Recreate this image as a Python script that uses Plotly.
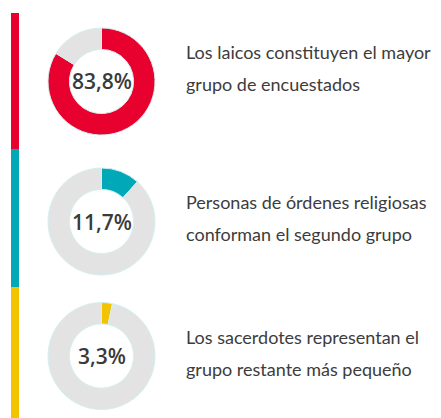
import plotly.graph_objects as go

# Data
groups = ["Laicos", "Órdenes religiosas", "Sacerdotes"]
shares = [83.8, 11.7, 3.3]
pct_labels = ["83,8%", "11,7%", "3,3%"]
captions = [
    ["Los laicos constituyen el mayor", "grupo de encuestados"],
    ["Personas de órdenes religiosas", "conforman el segundo grupo"],
    ["Los sacerdotes representan el", "grupo restante más pequeño"],
]
colors = ["#E8002F", "#00A8B8", "#F2C300"]
rest_color = "#E3E3E3"

# page body has an 8px margin; work in window pixels and convert
OFF = 8
W, H = 441 - OFF, 418 - OFF


def px(x):
    return (x - OFF) / W


def py(y):
    return 1 - (y - OFF) / H


donut_x = (48, 155)
donut_y = [(28, 135), (168, 275), (302, 410)]
bar_y = [(13, 149), (149, 287), (287, 418)]
caption_base = [(58, 90), (208, 240), (343, 375)]

fig = go.Figure()
for i, (g, v) in enumerate(zip(groups, shares)):
    y0, y1 = donut_y[i]
    fig.add_trace(go.Pie(
        labels=[g, "Resto"],
        values=[v, 100 - v],
        hole=0.6,
        sort=False,
        direction="clockwise",
        rotation=0,
        textinfo="none",
        hoverinfo="label+percent",
        marker=dict(colors=[colors[i], rest_color],
                    line=dict(color="#d4f0f0", width=1)),
        domain=dict(x=[px(donut_x[0]), px(donut_x[1])],
                    y=[py(y1), py(y0)]),
        showlegend=False,
    ))
    cx = px((donut_x[0] + donut_x[1]) / 2)
    cy = py((y0 + y1) / 2)
    fig.add_annotation(x=cx, y=cy, xref="paper", yref="paper",
                       text=pct_labels[i], showarrow=False,
                       xanchor="center", yanchor="middle",
                       font=dict(family="Open Sans", size=21, color="#3a3a3a",
                                 weight=600))
    for line, base in zip(captions[i], caption_base[i]):
        fig.add_annotation(x=px(184), y=py(base - 6), xref="paper", yref="paper",
                           text=line, showarrow=False,
                           xanchor="left", yanchor="middle",
                           font=dict(family="Lato", size=18, color="#3c3c3c"))
    b0, b1 = bar_y[i]
    fig.add_shape(type="rect", xref="paper", yref="paper",
                  x0=px(11), x1=px(19), y0=py(b1), y1=py(b0),
                  fillcolor=colors[i], line=dict(width=0), layer="below")

fig.update_layout(width=W, height=H, margin=dict(l=0, r=0, t=0, b=0),
                  paper_bgcolor="white", plot_bgcolor="white")
fig.write_html("out.html")
